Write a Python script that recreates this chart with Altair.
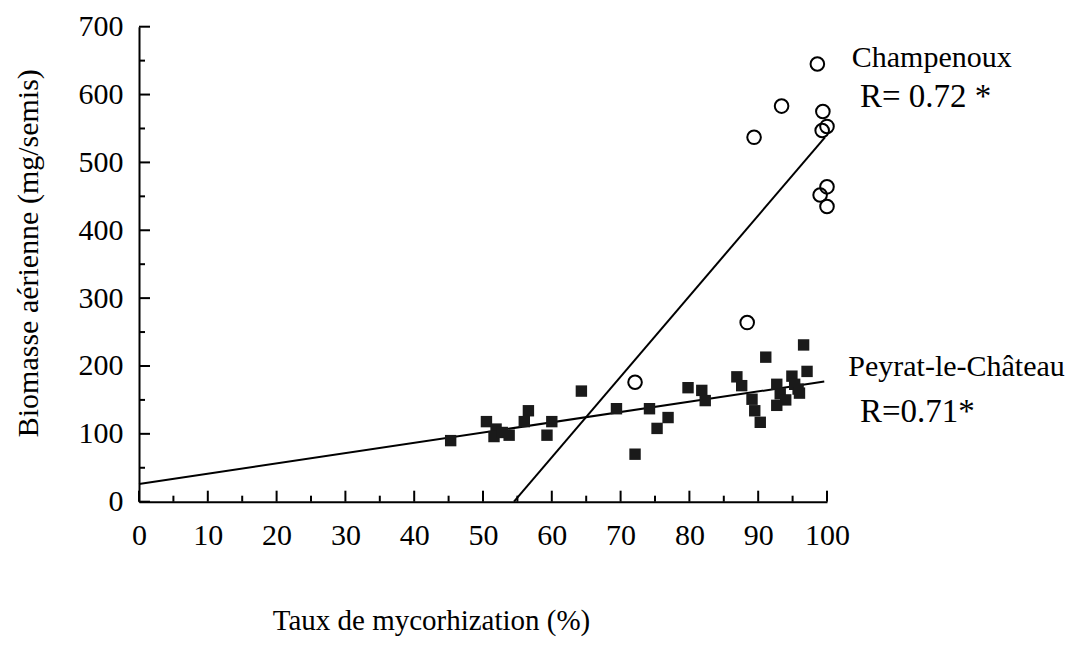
import altair as alt
import pandas as pd

# ---------------- data ----------------
# Champenoux (open circles)
champ_x = [98.6, 93.4, 89.4, 99.4, 100.0, 99.3, 100.0, 99.0, 100.0, 88.4, 72.1]
champ_y = [645, 583, 537, 575, 553, 547, 464, 452, 435, 264, 176]

# Peyrat-le-Château (filled squares)
peyrat_x = [45.3, 50.5, 51.9, 51.6, 53.8, 52.8, 56.6, 56.0, 60.0, 59.3,
            64.3, 69.4, 74.2, 76.9, 75.3, 72.1, 96.6, 91.1, 97.1, 79.8,
            81.8, 82.3, 86.9, 87.6, 89.1, 89.5, 90.3, 94.9, 92.7, 93.2,
            92.7, 95.8, 95.3, 94.0, 96.0]
peyrat_y = [90, 118, 107, 96, 98, 102, 134, 118, 118, 98,
            163, 137, 137, 124, 108, 70, 231, 213, 192, 168,
            164, 149, 184, 171, 151, 134, 117, 185, 173, 159,
            142, 166, 173, 150, 160]

# regression lines (end points)
champ_line_x = [54.5, 99.7]
champ_line_y = [0, 537]
peyrat_line_x = [0, 99.6]
peyrat_line_y = [26, 177]

# annotations
ann_text = ["Champenoux", "R= 0.72 *", "Peyrat-le-Château", "R=0.71*"]
ann_x = [103.6, 104.8, 103.1, 104.8]
ann_y = [640, 581, 185.5, 117]
ann_size = [30, 33, 30, 33]

# axis ticks
x_major = list(range(0, 101, 10))
x_minor = list(range(5, 100, 10))
y_major = list(range(0, 701, 100))
y_minor = list(range(50, 700, 100))

x_title = "Taux de mycorhization (%)"
y_title = "Biomasse aérienne (mg/semis)"

# ---------------- chart ----------------
W, H = 688, 475
FONT = "Liberation Serif"

xs = alt.Scale(domain=[0, 100], nice=False, zero=False)
ys = alt.Scale(domain=[0, 700], nice=False, zero=False)

champ_df = pd.DataFrame({"x": champ_x, "y": champ_y})
peyrat_df = pd.DataFrame({"x": peyrat_x, "y": peyrat_y})
line_df = pd.DataFrame({
    "x": champ_line_x + peyrat_line_x,
    "y": champ_line_y + peyrat_line_y,
    "site": ["Champenoux"] * 2 + ["Peyrat"] * 2,
})
ann_df = pd.DataFrame({"t": ann_text, "x": ann_x, "y": ann_y, "s": ann_size})

xaxis = alt.Axis(values=x_major, title=x_title, grid=False, ticks=False, tickSize=0,
                 labelFont=FONT, labelFontSize=30, labelColor="black",
                 labelBaseline="alphabetic", labelPadding=43, labelFlush=False,
                 domainColor="black", domainWidth=2,
                 titleFont=FONT, titleFontSize=29, titleFontWeight="normal",
                 titleColor="black", titleX=292, titleY=128,
                 titleAlign="center", titleBaseline="alphabetic")
yaxis = alt.Axis(values=y_major, title=y_title, grid=False, ticks=False, tickSize=0,
                 labelFont=FONT, labelFontSize=30, labelColor="black",
                 labelPadding=16, labelFlush=False,
                 domainColor="black", domainWidth=2,
                 titleFont=FONT, titleFontSize=30, titleFontWeight="normal",
                 titleColor="black", titleX=-102, titleY=226,
                 titleAngle=270, titleAlign="center", titleBaseline="alphabetic")


def X(field):
    return alt.X(field, scale=xs, axis=xaxis)


def Y(field):
    return alt.Y(field, scale=ys, axis=yaxis)


squares = alt.Chart(peyrat_df).mark_point(
    shape="square", filled=True, size=130, color="#1a1a1a", opacity=1
).encode(x=X("x:Q"), y=Y("y:Q"))

circles = alt.Chart(champ_df).mark_point(
    shape="circle", filled=False, size=185, color="black", strokeWidth=2, opacity=1
).encode(x=X("x:Q"), y=Y("y:Q"))

lines = alt.Chart(line_df).mark_line(color="black", strokeWidth=2).encode(
    x=X("x:Q"), y=Y("y:Q"), detail="site:N",
)

xmaj = alt.Chart(pd.DataFrame({"x": x_major})).mark_rule(color="black", strokeWidth=2).encode(
    x=X("x:Q"), y=alt.value(H), y2=alt.value(H - 11))
xmin = alt.Chart(pd.DataFrame({"x": x_minor})).mark_rule(color="black", strokeWidth=2).encode(
    x=X("x:Q"), y=alt.value(H), y2=alt.value(H - 6))
ymaj = alt.Chart(pd.DataFrame({"y": y_major})).mark_rule(color="black", strokeWidth=2).encode(
    y=Y("y:Q"), x=alt.value(0), x2=alt.value(11))
ymin = alt.Chart(pd.DataFrame({"y": y_minor})).mark_rule(color="black", strokeWidth=2).encode(
    y=Y("y:Q"), x=alt.value(0), x2=alt.value(6))

ann = alt.Chart(ann_df).mark_text(
    font=FONT, align="left", baseline="alphabetic", color="black"
).encode(
    x=X("x:Q"), y=Y("y:Q"),
    text="t:N",
    size=alt.Size("s:Q", scale=None, legend=None),
)

chart = alt.layer(lines, xmaj, xmin, ymaj, ymin, squares, circles, ann).properties(
    width=W, height=H,
    background="white",
    autosize=alt.AutoSizeParams(type="none"),
    padding={"left": 131, "top": 18.7, "right": 240, "bottom": 140},
).configure_view(stroke=None)

chart.save("out.html", embed_options={"renderer": "svg", "actions": False})
